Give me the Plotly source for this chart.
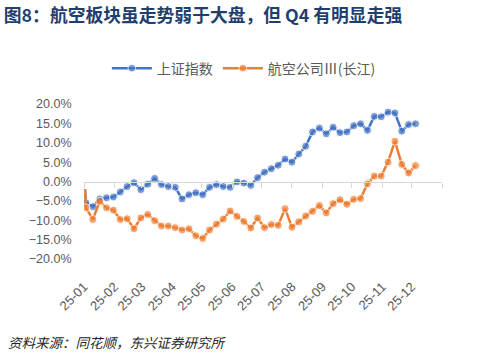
import plotly.graph_objects as go

dates = [
    "2025-01-02", "2025-01-03", "2025-01-10", "2025-01-17", "2025-01-24", "2025-01-31",
    "2025-02-07", "2025-02-14", "2025-02-21", "2025-02-28", "2025-03-07",
    "2025-03-14", "2025-03-21", "2025-03-28", "2025-04-04", "2025-04-11",
    "2025-04-18", "2025-04-25", "2025-05-02", "2025-05-09", "2025-05-16",
    "2025-05-23", "2025-05-30", "2025-06-06", "2025-06-13", "2025-06-20",
    "2025-06-27", "2025-07-04", "2025-07-11", "2025-07-18", "2025-07-25",
    "2025-08-01", "2025-08-08", "2025-08-15", "2025-08-22", "2025-08-29",
    "2025-09-05", "2025-09-12", "2025-09-19", "2025-09-26", "2025-10-03",
    "2025-10-10", "2025-10-17", "2025-10-24", "2025-10-31", "2025-11-07",
    "2025-11-14", "2025-11-21", "2025-11-28", "2025-12-05",
]

sse_index = [
    -2.0, -5.5, -6.5, -4.5, -4.2, -4.0, -2.7, -1.3, -0.3, -2.1, -0.7,
    0.8, -0.8, -1.3, -1.5, -4.5, -3.4, -2.9, -3.4, -1.5, -0.8,
    -1.3, -1.5, -0.1, -0.4, -1.0, 1.0, 2.4, 3.3, 4.2, 5.8,
    5.0, 7.1, 9.1, 12.8, 13.8, 12.3, 14.0, 12.6, 12.8, 14.4,
    14.9, 13.2, 16.8, 16.7, 17.9, 17.7, 13.0, 14.7, 14.9,
]

airline = [
    -2.0, -6.8, -9.8, -5.1, -6.8, -7.4, -9.8, -9.6, -12.2, -9.4, -8.5,
    -10.1, -11.5, -11.5, -11.9, -12.5, -12.2, -14.0, -14.7, -12.5, -11.0,
    -9.7, -7.6, -9.0, -10.3, -12.0, -9.4, -11.9, -11.1, -11.3, -7.0,
    -11.8, -10.4, -8.9, -7.7, -6.2, -8.1, -5.7, -4.7, -5.9, -4.6,
    -4.4, -0.6, 1.4, 1.4, 5.0, 10.4, 4.4, 2.2, 4.1,
]

month_ticks = [
    "2025-01-01", "2025-02-01", "2025-03-01", "2025-04-01", "2025-05-01", "2025-06-01",
    "2025-07-01", "2025-08-01", "2025-09-01", "2025-10-01", "2025-11-01", "2025-12-01",
]
tick_labels = ["25-01", "25-02", "25-03", "25-04", "25-05", "25-06",
               "25-07", "25-08", "25-09", "25-10", "25-11", "25-12"]

series_names = ["上证指数", "航空公司Ⅲ(长江)"]
colors = ["#4472C4", "#ED7D31"]

marker_sizes = [0] + [8] * (len(dates) - 1)

fig = go.Figure()
for name, vals, col in zip(series_names, [sse_index, airline], colors):
    fig.add_trace(go.Scatter(
        x=dates, y=[v / 100 for v in vals], name=name, mode="lines+markers",
        line=dict(color=col, width=2.5),
        marker=dict(color=col, size=marker_sizes),
    ))

# invisible trace to draw the axis line at 0%
fig.add_trace(go.Scatter(x=[dates[0]], y=[0], xaxis="x2", mode="markers",
                         marker=dict(opacity=0), showlegend=False, hoverinfo="skip"))

font_family = "Noto Sans CJK SC, Noto Sans, Liberation Sans, sans-serif"
tick_family = "Liberation Sans, Arial, sans-serif"

fig.update_layout(
    width=480, height=357,
    margin=dict(l=84, r=38, t=104, b=98, autoexpand=False),
    paper_bgcolor="white", plot_bgcolor="white",
    font=dict(family=font_family, color="#595959", size=12),
    title=dict(
        text="<b>图8：航空板块虽走势弱于大盘，但 Q4 有明显走强</b>",
        font=dict(size=17.8, color="#1F3F6E", family=font_family),
        xref="container", x=0.008, xanchor="left",
        yref="container", y=0.957, yanchor="middle",
    ),
    legend=dict(
        orientation="h", xref="container", x=0.508, xanchor="center",
        yref="container", y=0.808, yanchor="middle",
        font=dict(size=14, color="#595959"),
        itemwidth=40,
    ),
    showlegend=True,
    xaxis=dict(
        type="date", range=["2025-01-01", "2026-01-01"], automargin=False,
        tickvals=month_ticks, ticktext=tick_labels, tickangle=-45,
        showgrid=False, zeroline=False, showline=False,
        ticks="outside", ticklen=14, tickcolor="rgba(0,0,0,0)",
        tickfont=dict(size=13, color="#595959", family=tick_family),
    ),
    xaxis2=dict(
        type="date", range=["2025-01-01", "2026-01-01"], overlaying="x",
        anchor="free", position=0.5, side="bottom", automargin=False,
        tick0="2025-01-01", dtick="M1", showticklabels=False,
        showgrid=False, zeroline=False, showline=True, linecolor="#D9D9D9", linewidth=1,
        ticks="outside", ticklen=5, tickcolor="#D9D9D9",
    ),
    yaxis=dict(
        range=[-0.2, 0.2], dtick=0.05, tick0=0, tickformat=".1%", automargin=False,
        showgrid=False, zeroline=False, showline=False,
        ticks="outside", ticklen=9, tickcolor="rgba(0,0,0,0)",
        tickfont=dict(size=12.5, color="#595959", family=tick_family),
    ),
)

fig.add_annotation(
    text="<i>资料来源：同花顺，东兴证券研究所</i>",
    xref="paper", yref="paper", x=(6 - 84) / 358, y=(259 - 342) / 155,
    xanchor="left", yanchor="middle", showarrow=False,
    font=dict(size=13.5, color="#262626", family=font_family),
)

fig.write_html("out.html", post_script="document.body.style.margin='0';",
               config={"displayModeBar": False})
